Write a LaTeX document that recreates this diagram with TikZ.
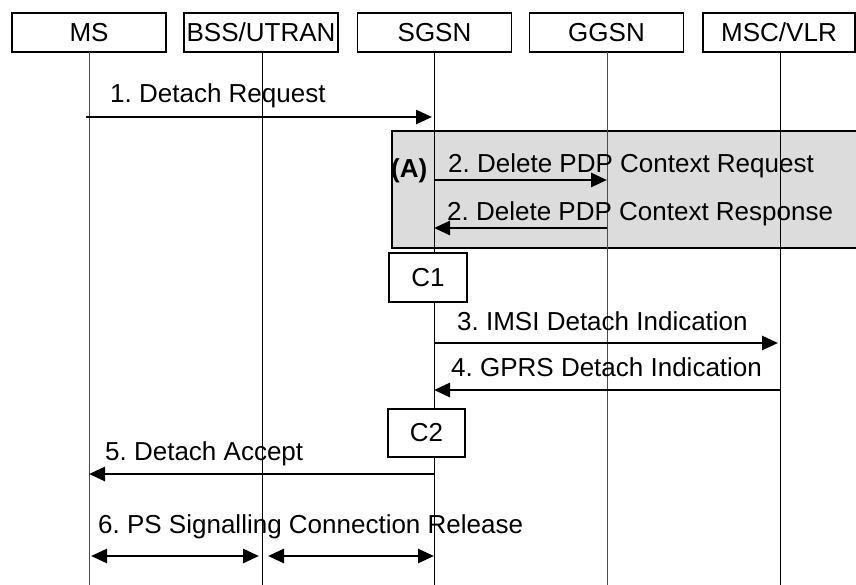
\documentclass[tikz,border=0pt]{standalone}
\usepackage{fontspec}
\setmainfont{Liberation Sans}
\usetikzlibrary{arrows.meta}
\definecolor{boxgray}{HTML}{DCDCDC}
\frenchspacing
\begin{document}
\begin{tikzpicture}[x=1pt,y=-1pt,
  txt/.style={font=\fontsize{26}{30}\selectfont},
  lbl/.style={txt, inner sep=0pt, anchor=base west},
  hdr/.style={txt, draw, line width=1.8pt, fill=white, minimum width=154pt, minimum height=39pt, inner sep=0pt},
  cbox/.style={txt, draw, line width=1.8pt, fill=white, minimum width=78pt, minimum height=49pt, inner sep=0pt},
  msg/.style={line width=2.8pt, -{Triangle[length=16pt,width=14pt]}, shorten >=2pt},
  bidir/.style={line width=2.8pt, {Triangle[length=16pt,width=14pt]}-{Triangle[length=16pt,width=14pt]}},
  life/.style={line width=1pt}]
\useasboundingbox (0,0) rectangle (856,584);
\clip (0,0) rectangle (856,584);
% shaded group A
\filldraw[fill=boxgray, draw=black, line width=1.8pt] (392,131) rectangle (880,248);
% headers
\node[hdr] (ms) at (89,32.5) {MS};
\node[hdr] (bss) at (261,32.5) {BSS/UTRAN};
\node[hdr] (sgsn) at (434.5,32.5) {SGSN};
\node[hdr] (ggsn) at (606.5,32.5) {GGSN};
\node[hdr, minimum width=152pt] (msc) at (779,32.5) {MSC/VLR};
% lifeline end points
\coordinate (msE) at (89,590);
\coordinate (bssE) at (262,590);
\coordinate (sgsnE) at (434,590);
\coordinate (ggsnE) at (607,590);
\coordinate (mscE) at (780,590);
\coordinate (msT) at (89,52);
\coordinate (bssT) at (262,52);
\coordinate (sgsnT) at (434,52);
\coordinate (ggsnT) at (607,52);
\coordinate (mscT) at (780,52);
\draw[life, black!70] (msT) -- (msE);
\draw[life] (bssT) -- (bssE);
\draw[life] (sgsnT) -- (sgsnE);
\draw[life, black!70] (ggsnT) -- (ggsnE);
\draw[life] (mscT) -- (mscE);
% condition boxes
\node[cbox] (c1) at (428,277.5) {C1};
\node[cbox, minimum width=77pt, minimum height=48pt] (c2) at (426.5,433) {C2};
% message end points
\coordinate (m1a) at (86,117);   \coordinate (m1b) at (434,117);
\coordinate (m2a) at (434,180);  \coordinate (m2b) at (607,180);
\coordinate (m2c) at (607,228);  \coordinate (m2d) at (434,228);
\coordinate (m3a) at (434,343);  \coordinate (m3b) at (780,343);
\coordinate (m4a) at (780,390);  \coordinate (m4b) at (434,390);
\coordinate (m5a) at (434,474);  \coordinate (m5b) at (89,474);
\coordinate (m6a) at (89,556);   \coordinate (m6b) at (262,556);
\coordinate (m6c) at (262,556);  \coordinate (m6d) at (434,556);
% messages
\draw[msg] (m1a) -- (m1b);
\draw[msg, shorten >=0pt] (m2a) -- (m2b);
\draw[msg, shorten >=0pt] (m2c) -- (m2d);
\draw[msg] (m3a) -- (m3b);
\draw[msg, shorten >=0pt] (m4a) -- (m4b);
\draw[msg, shorten >=0pt] (m5a) -- (m5b);
\draw[bidir, shorten <=2pt, shorten >=3pt] (m6a) -- (m6b);
\draw[bidir, shorten <=6pt] (m6c) -- (m6d);
% labels
\node[lbl] (l1) at (110,102) {1. Detach Request};
\node[lbl, font=\fontsize{26}{30}\selectfont\bfseries] (la) at (391,177) {(A)};
\node[lbl] (l2a) at (448,172) {2. Delete PDP Context Request};
\node[lbl] (l2b) at (447,220) {2. Delete PDP Context Response};
\node[lbl] (l3) at (457,330) {3. IMSI Detach Indication};
\node[lbl] (l4) at (451,376) {4. GPRS Detach Indication};
\node[lbl] (l5) at (105,460) {5. Detach Accept};
\node[lbl] (l6) at (98,533) {6. PS Signalling Connection Release};
\end{tikzpicture}
\end{document}
